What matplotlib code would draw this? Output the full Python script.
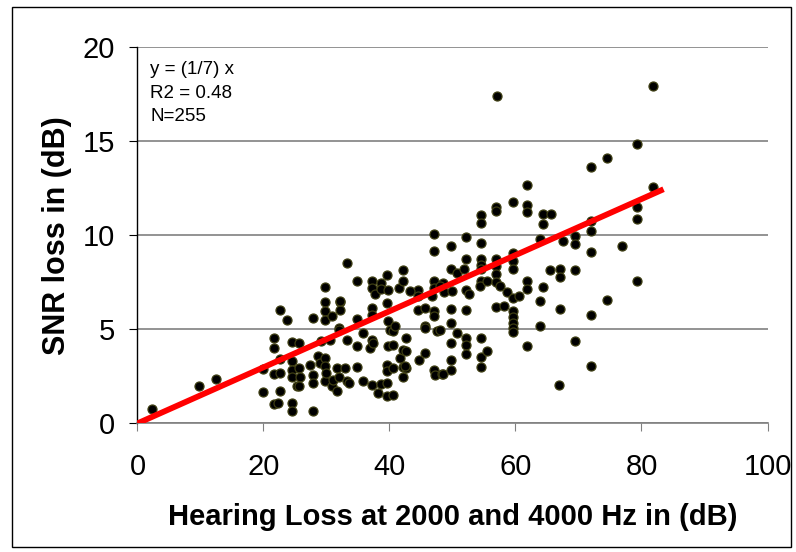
import matplotlib.pyplot as plt
from matplotlib.patches import Rectangle

# Hearing loss (dB) vs SNR loss (dB)
hearing_loss = [
    2.3, 9.7, 12.4,
    19.9, 19.9, 21.7, 21.7, 21.7, 21.7, 22.3, 22.7, 22.7, 22.7, 22.7, 23.7,
    24.6, 24.6, 24.6, 24.6, 24.6, 24.6, 25.3, 25.7, 25.7, 25.8, 25.7,
    27.4, 27.8, 27.8, 27.8, 27.8, 28.7, 29.0, 29.2, 29.8, 29.8, 29.8, 29.8,
    29.8, 29.8, 29.8, 30.0, 30.6, 30.8, 30.8, 31.1, 31.7, 31.7, 32.0, 32.0,
    32.0, 32.1, 32.1, 32.1, 33.2, 33.2, 33.3, 32.9,
    34.8, 34.8, 34.8, 34.8, 33.6, 35.8, 35.8, 36.9, 37.2, 37.2, 37.2, 37.2,
    37.2, 37.4, 37.2, 37.7, 38.2, 38.7, 38.7, 38.7, 39.6, 39.7, 39.6, 39.7,
    39.7, 39.6, 39.6, 39.6, 39.6, 40.1, 40.6, 40.6, 40.6, 40.6, 40.9, 41.5,
    41.7, 42.2, 42.2, 42.2, 42.2, 42.2, 42.7, 42.7, 42.7, 42.5,
    44.6, 44.6, 44.6, 44.7, 45.6, 45.6, 45.6, 45.6, 46.7, 47.0, 47.0, 47.0,
    47.0, 47.0, 47.1, 47.0, 47.2, 47.5, 48.3, 48.3, 48.5, 48.7, 48.0, 48.0,
    48.5, 49.7, 49.7, 49.9, 49.7, 49.7, 49.7, 49.7, 49.7, 43.3,
    50.7, 50.7, 51.8, 52.1, 52.1, 52.1, 52.7, 52.1, 52.1, 52.1, 52.1, 54.5,
    54.5, 54.5, 54.5, 54.5, 54.5, 54.5, 54.4, 54.5, 54.5, 54.5, 55.4, 55.5,
    56.9, 56.9, 56.9, 56.9, 56.9, 56.9, 56.9, 57.1, 57.5,
    58.2, 58.6, 59.6, 59.6, 59.6, 59.6, 59.6, 59.6, 59.6, 59.6, 59.6, 59.6,
    60.6, 61.9, 61.9, 61.9, 61.9, 61.9, 61.9, 63.9, 63.9, 63.9, 64.4, 64.4,
    64.4, 65.7, 65.5,
    66.9, 67.1, 67.1, 67.1, 67.6, 69.4, 69.4, 69.4, 69.4, 72.0, 72.0, 72.0,
    72.0, 72.0, 72.0, 74.5, 74.5, 76.9, 79.3, 79.3, 79.3, 79.3, 81.9, 81.9,
]
snr_loss = [
    0.75, 2.0, 2.37,
    2.9, 1.67, 4.55, 4.0, 2.62, 1.03, 1.1, 6.0, 3.4, 2.7, 1.74, 5.47,
    4.35, 3.29, 2.85, 2.49, 1.1, 0.66, 1.96, 4.27, 2.94, 2.49, 1.96,
    3.12, 5.6, 2.58, 2.14, 0.66, 3.56, 3.21, 4.36, 7.24, 6.44, 5.96, 5.48,
    3.47, 3.03, 2.23, 2.67, 4.45, 5.73, 1.96, 2.32, 2.94, 1.73, 5.07, 4.98,
    2.49, 6.44, 6.01, 6.5, 4.45, 2.23, 8.5, 2.94,
    7.56, 5.55, 4.09, 2.97, 2.14, 4.81, 2.23, 4.0, 7.56, 7.21, 6.14, 5.78,
    4.45, 4.27, 2.05, 6.85, 1.6, 7.47, 7.12, 2.09, 7.88, 7.08, 6.37, 5.43,
    4.09, 3.12, 2.76, 2.14, 1.48, 4.98, 4.89, 4.18, 2.94, 1.52, 5.2, 7.21,
    3.47, 8.15, 7.56, 3.92, 2.97, 2.49, 4.54, 3.83, 2.94, 3.03,
    7.08, 6.76, 6.01, 3.38, 6.14, 5.2, 5.07, 3.74, 6.76, 10.05, 9.16, 7.56,
    7.21, 5.96, 5.69, 2.85, 2.58, 4.93, 7.29, 2.62, 7.47, 6.98, 4.98, 7.3,
    2.64, 9.4, 8.19, 7.03, 6.09, 5.34, 4.27, 3.38, 2.81, 7.03,
    8.01, 4.81, 8.19, 9.88, 8.72, 7.08, 6.85, 6.01, 4.54, 4.18, 3.7, 11.07,
    10.64, 9.57, 8.72, 8.4, 8.22, 7.56, 7.3, 4.54, 3.53, 2.99, 7.56, 3.83,
    11.48, 11.3, 8.76, 8.36, 7.92, 7.51, 6.19, 17.4, 7.3,
    6.26, 6.98, 11.78, 9.04, 8.63, 8.19, 6.68, 5.96, 5.66, 5.34, 5.07, 4.84,
    6.76, 12.67, 11.6, 11.21, 7.56, 7.16, 4.09, 9.79, 6.5, 5.2, 11.12, 10.59,
    7.26, 11.12, 8.15,
    2.05, 8.22, 7.8, 6.1, 9.7, 9.93, 9.52, 8.15, 4.4, 13.6, 10.76, 10.23,
    9.1, 5.78, 3.03, 14.1, 6.58, 9.43, 14.84, 11.5, 10.87, 7.56, 17.9, 12.55,
]

# fitted line through the origin
fit_slope = 0.149
fit_x = [0, 83.5]

x_ticks = [0, 20, 40, 60, 80, 100]
y_ticks = [0, 5, 10, 15, 20]
notes = ["y = (1/7) x", "R2 = 0.48", "N=255"]

plt.rcParams['font.family'] = ['Liberation Sans', 'DejaVu Sans']

fig = plt.figure(figsize=(7.96, 5.52), dpi=100)
ax = fig.add_axes([0.1727, 0.2330, 0.7915, 0.6819])

ax.scatter(hearing_loss, snr_loss, s=42, c='black', edgecolors='#3d3d12',
           linewidths=0.9, zorder=3)
ax.plot(fit_x, [fit_slope * v for v in fit_x], color='#ff0000',
        linewidth=4.2, solid_capstyle='butt', zorder=4)

ax.set_xlim(0, 100)
ax.set_ylim(0, 20)
ax.set_xticks(x_ticks)
ax.set_yticks(y_ticks)
ax.yaxis.grid(True, color='#808080', linewidth=1.2)
ax.set_axisbelow(True)

for side in ['top', 'right']:
    ax.spines[side].set_visible(False)
ax.spines['left'].set_color('black')
ax.spines['left'].set_linewidth(1.0)
ax.spines['bottom'].set_color('#808080')
ax.spines['bottom'].set_linewidth(1.2)

ax.tick_params(axis='both', direction='out', length=6, labelsize=21)
ax.tick_params(axis='x', color='#808080', pad=15)
ax.tick_params(axis='y', color='black', pad=10)

ax.set_xlabel("Hearing Loss at 2000 and 4000 Hz in (dB)", fontsize=21,
              fontweight='bold', labelpad=16)
ax.set_ylabel("SNR loss in (dB)", fontsize=22, fontweight='bold',
              labelpad=8)

for i, line in enumerate(notes):
    ax.text(0.02, 0.94 - i * 0.063, line, transform=ax.transAxes,
            fontsize=13.5, va='center', ha='left')

fig.patches.append(Rectangle((0.0147, 0.009), 0.979, 0.979, fill=False,
                             edgecolor='black', linewidth=1.0,
                             transform=fig.transFigure, figure=fig))

plt.savefig('out.png', dpi=100)
